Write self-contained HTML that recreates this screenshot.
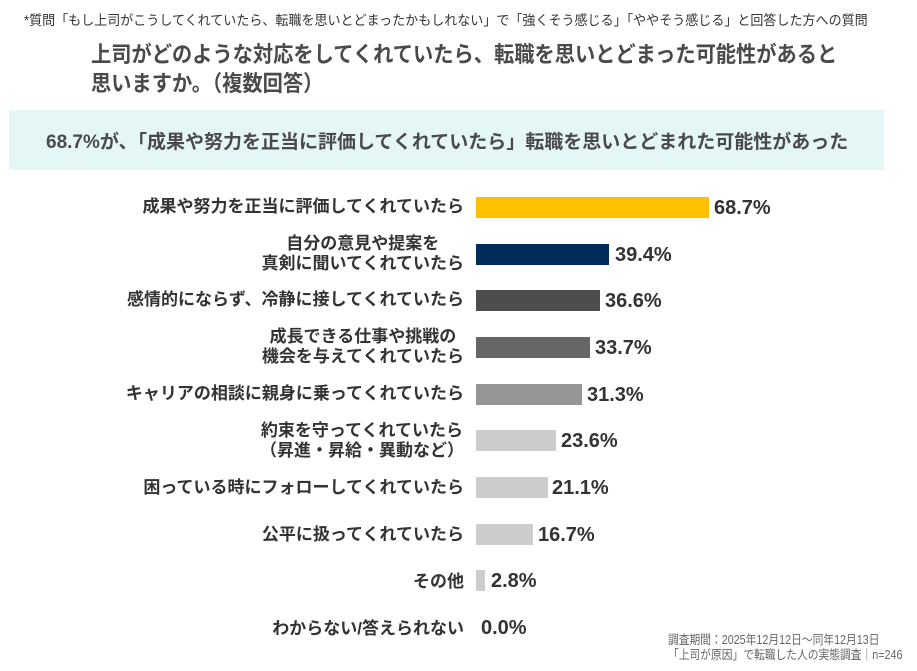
<!DOCTYPE html>
<html><head><meta charset="utf-8"><style>
body{margin:0;width:917px;height:671px;background:#fff;position:relative;overflow:hidden;font-family:"Liberation Sans","Noto Sans CJK JP",sans-serif;color:#404040}
.a{position:absolute;white-space:nowrap}
.lab{position:absolute;right:453px;text-align:center;font-weight:bold;font-size:17px;line-height:20px;color:#333;white-space:nowrap}
.bar{position:absolute;left:476px;height:21px}
.val{position:absolute;font-weight:bold;font-size:20px;line-height:22px;color:#333;font-family:"Liberation Sans",sans-serif}
</style></head><body>
<div class="a" style="left:24px;top:9px;font-size:13.5px;color:#333;transform:scaleX(0.965);transform-origin:left">*質問「もし上司がこうしてくれていたら、転職を思いとどまったかもしれない」で「強くそう感じる」「ややそう感じる」と回答した方への質問</div>
<div class="a" style="left:91px;top:40px;font-size:22px;font-weight:bold;line-height:29px;color:#4a4a4a;transform:scaleX(0.92);transform-origin:left">上司がどのような対応をしてくれていたら、転職を思いとどまった可能性があると<br>思いますか。（複数回答）</div>
<div class="a" style="left:9px;top:110px;width:875px;height:60px;background:#e4f6f6"></div>
<div class="a" style="left:46px;top:127px;font-size:19px;font-weight:bold;color:#4a4a4a">68.7%が、「成果や努力を正当に評価してくれていたら」転職を思いとどまれた可能性があった</div>

<div class="lab" style="top:197px">成果や努力を正当に評価してくれていたら</div>
<div class="lab" style="top:234px">自分の意見や提案を<br>真剣に聞いてくれていたら</div>
<div class="lab" style="top:290px">感情的にならず、冷静に接してくれていたら</div>
<div class="lab" style="top:327px">成長できる仕事や挑戦の<br>機会を与えてくれていたら</div>
<div class="lab" style="top:384px">キャリアの相談に親身に乗ってくれていたら</div>
<div class="lab" style="top:421px">約束を守ってくれていたら<br>（昇進・昇給・異動など）</div>
<div class="lab" style="top:478px">困っている時にフォローしてくれていたら</div>
<div class="lab" style="top:525px">公平に扱ってくれていたら</div>
<div class="lab" style="top:572px">その他</div>
<div class="lab" style="top:619px">わからない/答えられない</div>

<div class="bar" style="top:197px;width:233px;background:#ffc000"></div>
<div class="bar" style="top:244px;width:133px;background:#002b5c"></div>
<div class="bar" style="top:290px;width:124px;background:#4d4d4d"></div>
<div class="bar" style="top:337px;width:114px;background:#666"></div>
<div class="bar" style="top:384px;width:106px;background:#969696"></div>
<div class="bar" style="top:430px;width:80px;background:#cccccc"></div>
<div class="bar" style="top:477px;width:72px;background:#cccccc"></div>
<div class="bar" style="top:524px;width:57px;background:#cccccc"></div>
<div class="bar" style="top:570px;width:9px;background:#cccccc"></div>

<div class="val" style="left:714px;top:197px">68.7%</div>
<div class="val" style="left:615px;top:244px">39.4%</div>
<div class="val" style="left:605px;top:290px">36.6%</div>
<div class="val" style="left:595px;top:337px">33.7%</div>
<div class="val" style="left:587px;top:384px">31.3%</div>
<div class="val" style="left:561px;top:430px">23.6%</div>
<div class="val" style="left:552px;top:477px">21.1%</div>
<div class="val" style="left:538px;top:524px">16.7%</div>
<div class="val" style="left:491px;top:570px">2.8%</div>
<div class="val" style="left:481px;top:617px">0.0%</div>

<div class="a" style="left:668px;top:633px;font-size:12.5px;line-height:15px;color:#666;transform:scaleX(0.86);transform-origin:left">調査期間：2025年12月12日～同年12月13日<br>「上司が原因」で転職した人の実態調査｜n=246</div>
</body></html>
